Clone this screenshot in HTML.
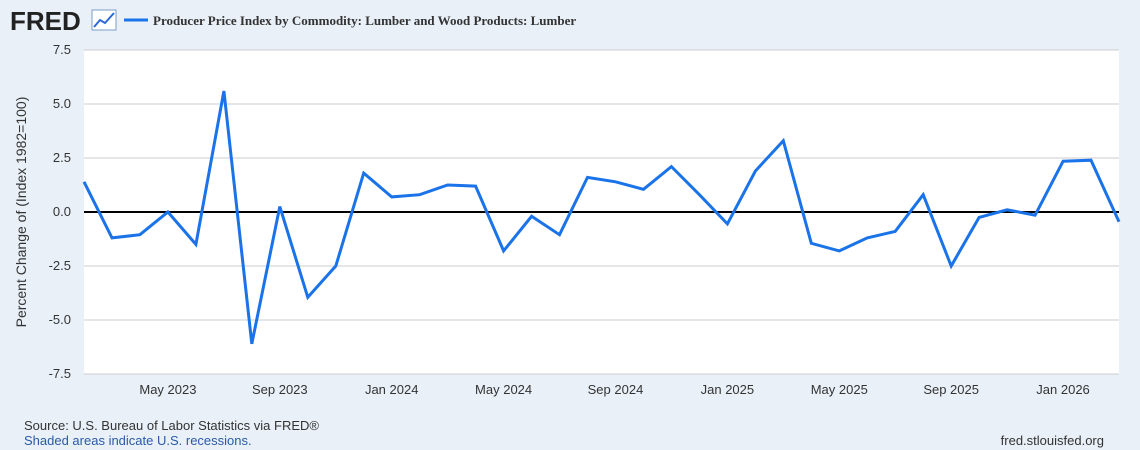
<!DOCTYPE html>
<html><head><meta charset="utf-8"><style>
body{margin:0;background:#e9f0f8;font-family:"Liberation Sans",sans-serif;}
svg{display:block}
</style></head><body>
<svg width="1140" height="450">
<rect width="1140" height="450" fill="#e9f0f8"/>
<text x="10" y="30" font-size="26" font-weight="bold" fill="#222" font-family="Liberation Sans">FRED</text>
<g><rect x="92" y="10" width="24" height="20" fill="#fff" stroke="#7a9cc8"/><polyline points="94,27 100,20 105,23 114,13" fill="none" stroke="#2a6ad4" stroke-width="2"/></g>
<line x1="124" y1="20" x2="148" y2="20" stroke="#1a73e8" stroke-width="3"/>
<text x="153" y="25" font-size="13" font-weight="bold" fill="#333" font-family="Liberation Serif">Producer Price Index by Commodity: Lumber and Wood Products: Lumber</text>
<rect x="84" y="50" width="1035" height="324" fill="#fff"/>
<g id="grid"></g>
<g id="yt"></g>
<g id="xt"></g>
<text transform="translate(26,212) rotate(-90)" text-anchor="middle" font-size="14" fill="#333">Percent Change of (Index 1982=100)</text>
<path id="line" fill="none" stroke="#1a73e8" stroke-width="3" stroke-linejoin="miter"/>
<text x="24" y="430" font-size="13" fill="#333">Source: U.S. Bureau of Labor Statistics via FRED®</text>
<text x="24" y="445" font-size="13" fill="#2a5aa8">Shaded areas indicate U.S. recessions.</text>
<text x="1104" y="445" font-size="13" fill="#333" text-anchor="end">fred.stlouisfed.org</text>
</svg>
<script>
const values=[1.4,-1.2,-1.05,0.0,-1.5,5.6,-6.1,0.25,-3.95,-2.5,1.8,0.7,0.8,1.25,1.2,-1.8,-0.2,-1.05,1.6,1.4,1.05,2.1,0.8,-0.55,1.9,3.3,-1.45,-1.8,-1.2,-0.9,0.8,-2.5,-0.25,0.1,-0.15,2.35,2.4,-0.45];
const yTicks=[7.5,5.0,2.5,0.0,-2.5,-5.0,-7.5];
const xLabels=["May 2023","Sep 2023","Jan 2024","May 2024","Sep 2024","Jan 2025","May 2025","Sep 2025","Jan 2026"];
const xLabelIdx=[3,7,11,15,19,23,27,31,35];
const NS="http://www.w3.org/2000/svg";
const x0=84,x1=1119,y0=50,y1=374;
const xs=i=>x0+(x1-x0)*i/(values.length-1);
const ys=v=>y0+(7.5-v)/15*(y1-y0);
const grid=document.getElementById('grid'),yt=document.getElementById('yt'),xt=document.getElementById('xt');
yTicks.forEach(t=>{
 const l=document.createElementNS(NS,'line');
 l.setAttribute('x1',x0);l.setAttribute('x2',x1);l.setAttribute('y1',ys(t));l.setAttribute('y2',ys(t));
 l.setAttribute('stroke',t===0?'#000':'#ccc');l.setAttribute('stroke-width',t===0?2:1);
 
 
 grid.appendChild(l);
 const tx=document.createElementNS(NS,'text');
 tx.setAttribute('x',71);tx.setAttribute('y',ys(t)+4);tx.setAttribute('text-anchor','end');tx.setAttribute('font-size','13');tx.setAttribute('fill','#333');
 tx.textContent=t.toFixed(1);
 
 
 yt.appendChild(tx);
});
xLabels.forEach((s,k)=>{
 const tx=document.createElementNS(NS,'text');
 tx.setAttribute('x',xs(xLabelIdx[k]));tx.setAttribute('y',394);tx.setAttribute('text-anchor','middle');tx.setAttribute('font-size','13');tx.setAttribute('fill','#333');
 tx.textContent=s;
 
 
 xt.appendChild(tx);
});
document.getElementById('line').setAttribute('d',values.map((v,i)=>(i?'L':'M')+xs(i).toFixed(1)+','+ys(v).toFixed(1)).join(''));
</script>
</body></html>
